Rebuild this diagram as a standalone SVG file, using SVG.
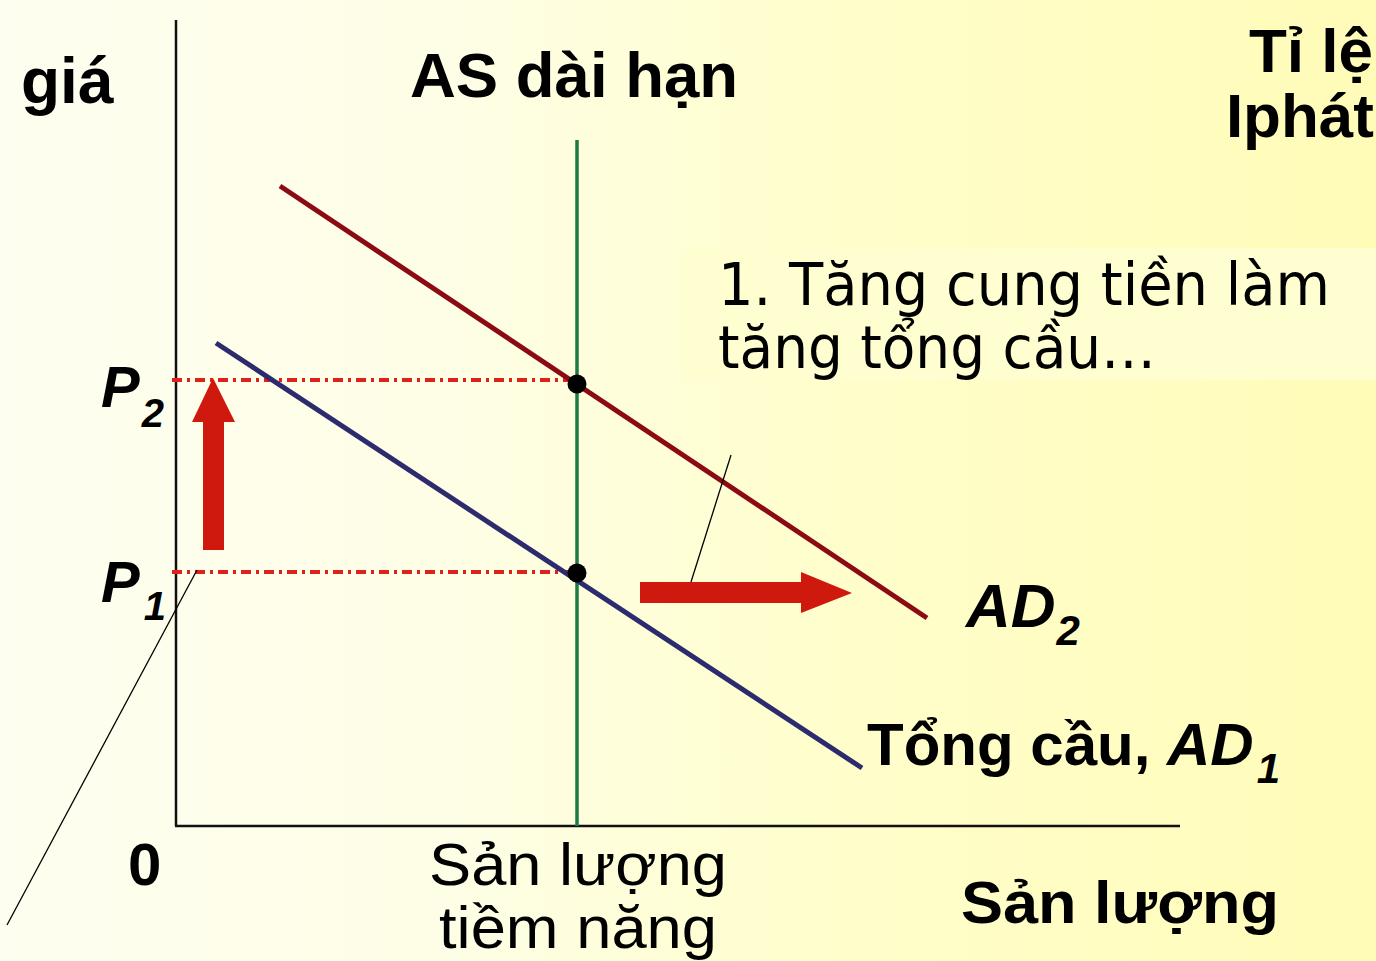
<svg xmlns="http://www.w3.org/2000/svg" width="1376" height="961" viewBox="0 0 1376 961">
<defs>
<linearGradient id="bg" x1="0" y1="0" x2="1" y2="0">
<stop offset="0" stop-color="#FEFEF0"/>
<stop offset="0.33" stop-color="#FEFEE6"/>
<stop offset="0.6" stop-color="#FFFECC"/>
<stop offset="1" stop-color="#FFFCB8"/>
</linearGradient>
<style>
.b{font-family:"Liberation Sans",Arial,sans-serif;font-weight:bold;fill:#000}
.r{font-family:"Liberation Sans",Arial,sans-serif;fill:#000}
.bi{font-family:"Liberation Sans",Arial,sans-serif;font-weight:bold;font-style:italic;fill:#000}
.t{font-family:"DejaVu Sans Condensed","DejaVu Sans",sans-serif;fill:#000}
.dot{stroke:#E0201A;stroke-width:4;stroke-dasharray:10 5 3 5;fill:none}
.thin{stroke:#000;stroke-width:1.3;fill:none}
</style>
</defs>
<rect width="1376" height="961" fill="url(#bg)"/>
<rect x="683" y="248" width="693" height="132" fill="#FFFED0"/>

<g id="axes">
<line x1="176" y1="20" x2="176" y2="826" stroke="#111" stroke-width="2.5"/>
<line x1="175" y1="826" x2="1180" y2="826" stroke="#111" stroke-width="2.5"/>
</g>

<g id="guides">
<line class="dot" x1="172" y1="380" x2="577" y2="380"/>
<line class="dot" x1="172" y1="572" x2="577" y2="572"/>
</g>

<g id="as-long-run">
<line x1="577" y1="140" x2="577" y2="826" stroke="#1B7A45" stroke-width="3.5"/>
</g>

<g id="ad2">
<line x1="280" y1="186" x2="927" y2="618" stroke="#8B0A14" stroke-width="5"/>
</g>

<g id="ad1">
<line x1="216" y1="343" x2="862" y2="768" stroke="#2B2B6E" stroke-width="5"/>
</g>

<g id="points">
<circle cx="577" cy="384" r="9.5" fill="#000"/>
<circle cx="577" cy="573" r="9.5" fill="#000"/>
</g>

<g id="connectors">
<polygon points="203,550 224,550 224,422 235,422 213,378 192,422 203,422" fill="#D0190E"/>
<polygon points="640,582 801,582 801,572 852,593 801,613 801,603 640,603" fill="#D0190E"/>
<line class="thin" x1="731" y1="455" x2="691" y2="582"/>
<line class="thin" x1="7" y1="925" x2="197" y2="570"/>
</g>

<g id="label-gia"><text class="b" x="21" y="103" font-size="64">giá</text></g>
<g id="label-as"><text class="b" x="410" y="97" font-size="63" textLength="328" lengthAdjust="spacingAndGlyphs">AS dài hạn</text></g>
<g id="label-tile">
<text class="b" x="1373" y="72" font-size="62" text-anchor="end">Tỉ lệ</text>
<text class="b" x="1374" y="137" font-size="62" text-anchor="end">Iphát</text>
</g>
<g id="callout">
<text class="t" x="718" y="305" font-size="58" textLength="612" lengthAdjust="spacingAndGlyphs">1. Tăng cung tiền làm</text>
<text class="t" x="718" y="368" font-size="58" textLength="438" lengthAdjust="spacingAndGlyphs">tăng tổng cầu…</text>
</g>
<g id="label-p2"><text class="bi" x="101" y="407" font-size="58">P<tspan font-size="40" dx="2" dy="20">2</tspan></text></g>
<g id="label-p1"><text class="bi" x="101" y="602" font-size="58">P<tspan font-size="40" dx="4" dy="18">1</tspan></text></g>
<g id="label-zero"><text class="b" x="128" y="885" font-size="60">0</text></g>
<g id="label-potential">
<text class="r" x="578" y="885" font-size="60" text-anchor="middle" textLength="298" lengthAdjust="spacingAndGlyphs">Sản lượng</text>
<text class="r" x="578" y="948" font-size="60" text-anchor="middle" textLength="278" lengthAdjust="spacingAndGlyphs">tiềm năng</text>
</g>
<g id="label-ad2"><text class="bi" x="966" y="627" font-size="62">AD<tspan font-size="42" dx="1" dy="18">2</tspan></text></g>
<g id="label-ad1"><text class="b" x="867" y="765" font-size="60">Tổng cầu, <tspan font-style="italic">AD</tspan><tspan font-style="italic" font-size="42" dx="3" dy="18">1</tspan></text></g>
<g id="label-output"><text class="b" x="961" y="923" font-size="60" textLength="318" lengthAdjust="spacingAndGlyphs">Sản lượng</text></g>
</svg>
